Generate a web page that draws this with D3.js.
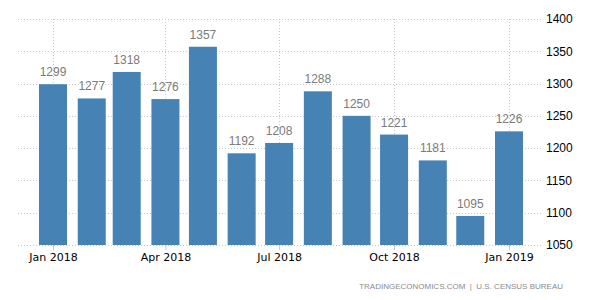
<!DOCTYPE html>
<html>
<head>
<meta charset="utf-8">
<script src="https://cdn.jsdelivr.net/npm/d3@7"></script>
<style>
body { margin: 0; background: #fff; }
svg { display: block; }
</style>
</head>
<body>
<svg id="chart" width="600" height="300"></svg>
<script>
var months = ["2018-01", "2018-02", "2018-03", "2018-04", "2018-05", "2018-06", "2018-07",
	"2018-08", "2018-09", "2018-10", "2018-11", "2018-12", "2019-01"];
var values = [1299, 1277, 1318, 1276, 1357, 1192, 1208, 1288, 1250, 1221, 1181, 1095, 1226];
var xTicks = ["2018-01", "2018-04", "2018-07", "2018-10", "2019-01"];
var yTicks = [1050, 1100, 1150, 1200, 1250, 1300, 1350, 1400];
var source = "TRADINGECONOMICS.COM  |  U.S. CENSUS BUREAU";

var parse = d3.timeParse("%Y-%m");
var fmt = d3.timeFormat("%b %Y");

var svg = d3.select("#chart");
var gridLeft = 18, gridRight = 542;

var x = d3.scaleTime()
	.domain([parse("2018-01"), parse("2019-01")])
	.range([53, 509]);
var y = d3.scaleLinear()
	.domain([1050, 1400])
	.range([245, 19]);

// horizontal grid
svg.append("g").selectAll("line")
	.data(yTicks)
	.enter().append("line")
	.attr("x1", gridLeft)
	.attr("x2", gridRight)
	.attr("y1", function(d) { return Math.round(y(d)) + 0.5; })
	.attr("y2", function(d) { return Math.round(y(d)) + 0.5; })
	.attr("stroke", "#c8c8c8")
	.attr("stroke-dasharray", "1,2");

// vertical grid
svg.append("g").selectAll("line")
	.data(xTicks)
	.enter().append("line")
	.attr("x1", function(d) { return Math.round(x(parse(d))) + 0.5; })
	.attr("x2", function(d) { return Math.round(x(parse(d))) + 0.5; })
	.attr("y1", y(1400))
	.attr("y2", y(1050))
	.attr("stroke", "#c8c8c8")
	.attr("stroke-dasharray", "1,2");

// bars
svg.append("g").selectAll("rect")
	.data(values)
	.enter().append("rect")
	.attr("x", function(d, i) { return x(parse(months[i])) - 14; })
	.attr("width", 28)
	.attr("y", function(d) { return y(d); })
	.attr("height", function(d) { return y(1050) - y(d); })
	.attr("fill", "#4682b4");

// value labels
svg.append("g").selectAll("text")
	.data(values)
	.enter().append("text")
	.attr("x", function(d, i) { return x(parse(months[i])); })
	.attr("y", function(d) { return y(d) - 8; })
	.attr("text-anchor", "middle")
	.attr("font-family", "Liberation Sans, Arial, sans-serif")
	.attr("font-size", 12)
	.attr("fill", "#7a7a7a")
	.text(function(d) { return d; });

// x axis
var xAxis = d3.axisBottom(x)
	.tickValues(xTicks.map(parse))
	.tickFormat(fmt)
	.tickSize(5)
	.tickPadding(3);
var gx = svg.append("g")
	.attr("transform", "translate(0," + y(1050) + ")")
	.call(xAxis);
gx.select(".domain").remove();
gx.selectAll(".tick line").attr("stroke", "#c8c8c8");
gx.selectAll(".tick text")
	.attr("font-family", "DejaVu Sans, sans-serif")
	.attr("font-size", 11)
	.attr("fill", "#000");

// y axis
var yAxis = d3.axisRight(y)
	.tickValues(yTicks)
	.tickFormat(d3.format("d"))
	.tickSize(0)
	.tickPadding(0);
var gy = svg.append("g")
	.attr("transform", "translate(546,0)")
	.call(yAxis);
gy.select(".domain").remove();
gy.selectAll(".tick text")
	.attr("font-family", "Liberation Sans, Arial, sans-serif")
	.attr("font-size", 12)
	.attr("fill", "#000");

// source
svg.append("text")
	.attr("x", 563)
	.attr("y", 289)
	.attr("text-anchor", "end")
	.attr("font-family", "Liberation Sans, Arial, sans-serif")
	.attr("font-size", 8)
	.attr("fill", "#8a8a8a")
	.attr("xml:space", "preserve")
	.style("white-space", "pre")
	.text(source);
</script>
</body>
</html>
